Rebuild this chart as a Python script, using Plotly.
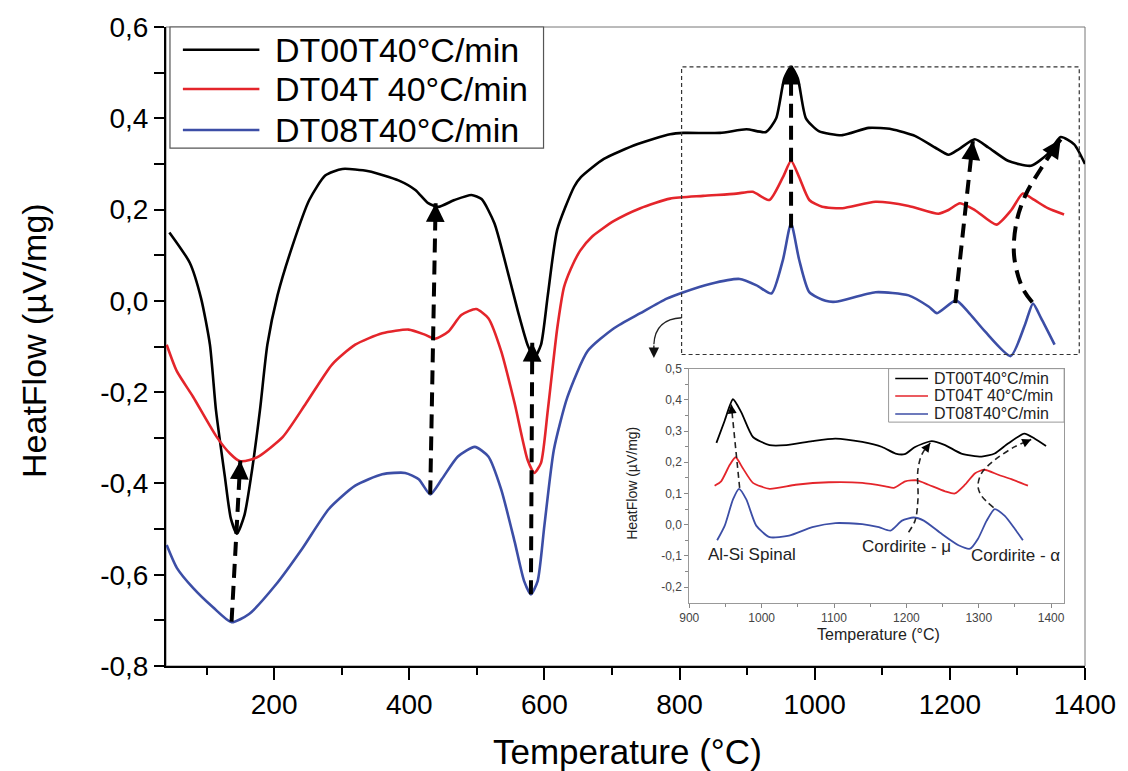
import math
import plotly.graph_objects as go

FONT = "Liberation Sans, Arial, sans-serif"

# ---------------- data ----------------
series_names = ["DT00T40°C/min", "DT04T 40°C/min", "DT08T40°C/min"]
series_colors = ["#000000", "#e4252b", "#3c4ea6"]

black_t = [45, 75, 92, 105, 114, 127, 136, 145, 156, 166, 179, 190, 205, 227, 252, 276, 301, 340, 384,
           409, 428, 443, 467, 492, 507, 526, 546, 561, 575, 585, 595, 605, 619, 644, 654, 688, 737, 786,
           806, 860, 899, 928, 943, 955, 965, 975, 987, 1006, 1041, 1080, 1114, 1149, 1178, 1198, 1213,
           1237, 1257, 1286, 1320, 1345, 1364, 1384, 1400]
black_v = [0.15, 0.084, 0.005, -0.096, -0.24, -0.384, -0.477, -0.51, -0.47, -0.384, -0.24, -0.096, 0.012,
           0.12, 0.221, 0.275, 0.289, 0.284, 0.264, 0.243, 0.214, 0.206, 0.221, 0.232, 0.223, 0.17, 0.062,
           -0.024, -0.096, -0.125, -0.096, 0.012, 0.156, 0.25, 0.271, 0.311, 0.343, 0.365, 0.368, 0.368,
           0.376, 0.37, 0.40, 0.487, 0.513, 0.487, 0.40, 0.372, 0.363, 0.379, 0.376, 0.361, 0.336, 0.32,
           0.332, 0.354, 0.336, 0.307, 0.296, 0.322, 0.359, 0.343, 0.300]

red_t = [41, 56, 80, 115, 135, 149, 165, 178, 213, 247, 286, 320, 360, 399, 423, 438, 458, 477, 499, 517,
         536, 556, 575, 585, 595, 605, 619, 629, 639, 653, 670, 703, 742, 786, 835, 884, 908, 933, 953,
         965, 977, 992, 1011, 1041, 1090, 1139, 1183, 1198, 1215, 1237, 1269, 1291, 1308, 1325, 1345, 1369]
red_v = [-0.096, -0.154, -0.21, -0.298, -0.335, -0.351, -0.348, -0.34, -0.298, -0.225, -0.139, -0.096,
         -0.071, -0.063, -0.074, -0.083, -0.067, -0.031, -0.018, -0.038, -0.11, -0.225, -0.348, -0.377,
         -0.355, -0.24, -0.06, 0.03, 0.07, 0.11, 0.14, 0.175, 0.203, 0.224, 0.23, 0.235, 0.239, 0.221,
         0.271, 0.307, 0.271, 0.221, 0.206, 0.203, 0.217, 0.208, 0.191, 0.199, 0.214, 0.199, 0.167,
         0.199, 0.235, 0.221, 0.203, 0.189]

blue_t = [41, 56, 80, 110, 137, 163, 203, 242, 281, 320, 360, 394, 414, 431, 448, 472, 497, 517, 536, 556,
          570, 580, 590, 600, 614, 634, 664, 703, 742, 781, 806, 845, 889, 914, 936, 953, 965, 977, 992,
          1016, 1031, 1090, 1139, 1169, 1181, 1209, 1227, 1252, 1290, 1311, 1323, 1335, 1355]
blue_v = [-0.535, -0.585, -0.629, -0.672, -0.704, -0.686, -0.621, -0.542, -0.456, -0.405, -0.38, -0.377,
          -0.391, -0.424, -0.391, -0.341, -0.32, -0.341, -0.413, -0.528, -0.614, -0.643, -0.614, -0.492,
          -0.326, -0.211, -0.11, -0.06, -0.027, 0.005, 0.019, 0.037, 0.048, 0.034, 0.016, 0.09, 0.17,
          0.09, 0.019, 0.0, -0.002, 0.019, 0.012, -0.013, -0.027, 0.001, -0.024, -0.067, -0.121, -0.053,
          -0.006, -0.038, -0.096]

inset_black_t = [937.5, 949, 960.4, 971.9, 988, 1011, 1034, 1070, 1102, 1139, 1166.5, 1185, 1197.6, 1212,
                 1235, 1253.5, 1276, 1304, 1322, 1340.5, 1363, 1377, 1393]
inset_black_v = [0.262, 0.334, 0.402, 0.36, 0.281, 0.255, 0.255, 0.268, 0.276, 0.265, 0.249, 0.228, 0.226,
                 0.249, 0.268, 0.255, 0.228, 0.218, 0.228, 0.26, 0.292, 0.276, 0.252]
inset_red_t = [935, 944, 956, 964, 974, 988, 1011, 1047, 1093, 1139, 1171, 1182.5, 1198.5, 1214.6, 1230.6,
               1253.5, 1267, 1281, 1295, 1308, 1327, 1345, 1368]
inset_red_v = [0.125, 0.139, 0.192, 0.216, 0.181, 0.134, 0.115, 0.128, 0.136, 0.134, 0.123, 0.118, 0.139,
               0.142, 0.128, 0.107, 0.1, 0.128, 0.165, 0.176, 0.16, 0.146, 0.125]
inset_blue_t = [938.5, 949, 960.4, 968.7, 978.8, 992.5, 1011, 1038, 1070, 1102, 1139, 1162, 1178, 1194,
                1210, 1224, 1249, 1272, 1288, 1299, 1311, 1322, 1336, 1350, 1361]
inset_blue_v = [-0.05, -0.003, 0.081, 0.115, 0.081, -0.003, -0.04, -0.035, -0.008, 0.005, 0.002, -0.008,
                -0.019, 0.013, 0.023, 0.013, -0.03, -0.066, -0.077, -0.045, 0.013, 0.05, 0.028, -0.014, -0.05]

main_x_ticks = [200, 400, 600, 800, 1000, 1200, 1400]
main_x_labels = ["200", "400", "600", "800", "1000", "1200", "1400"]
main_y_ticks = [-0.8, -0.6, -0.4, -0.2, 0.0, 0.2, 0.4, 0.6]
main_y_labels = ["-0,8", "-0,6", "-0,4", "-0,2", "0,0", "0,2", "0,4", "0,6"]
inset_x_ticks = [900, 1000, 1100, 1200, 1300, 1400]
inset_x_labels = ["900", "1000", "1100", "1200", "1300", "1400"]
inset_y_ticks = [-0.2, -0.1, 0.0, 0.1, 0.2, 0.3, 0.4, 0.5]
inset_y_labels = ["-0,2", "-0,1", "0,0", "0,1", "0,2", "0,3", "0,4", "0,5"]

# dashed guide arrows (temperature, heat flow); last point = arrow tip
main_arrows = [
    [(137, -0.703), (150, -0.35)],
    [(431, -0.424), (439, 0.214)],
    [(580, -0.643), (582, -0.092)],
    [(965, 0.16), (965, 0.515)],
    [(1208, -0.005), (1234, 0.35)],
    [(1322, -0.003), (1307, 0.03), (1295, 0.10), (1299, 0.175), (1313, 0.235), (1335, 0.29), (1364, 0.354)],
]
inset_arrows = [
    [(969.6, 0.118), (958, 0.385)],
    [(1203, -0.024), (1212, 0.013), (1216, 0.081), (1216, 0.176), (1222, 0.228), (1233, 0.262)],
    [(1320.5, 0.055), (1304, 0.092), (1299, 0.123), (1304, 0.165), (1322, 0.207), (1350, 0.25), (1372.5, 0.273)],
]
inset_labels = [("Al-Si Spinal", 986.7, -0.096), ("Cordirite - μ", 1200, -0.0715), ("Cordirite - α", 1350.3, -0.098)]
zoom_box = (803, 1391.5, -0.1175, 0.5125)

# ---------------- layout geometry ----------------
W, H = 1128, 771
ML, MR, MT, MB = 166, 37, 17, 105
PW, PH = W - ML - MR, H - MT - MB
X_RANGE = [40, 1400]
Y_RANGE = [-0.8, 0.6]
IX_RANGE = [900, 1418]
IY_RANGE = [-0.25, 0.5]


def pxx(x):
    return (x - ML) / PW


def pxy(y):
    return (H - MB - y) / PH


ins_x0, ins_x1, ins_y0, ins_y1 = 692.7, 1070, 364, 601.7
SX = PW / (X_RANGE[1] - X_RANGE[0])
SY = PH / (Y_RANGE[1] - Y_RANGE[0])
ISX = (ins_x1 - ins_x0) / (IX_RANGE[1] - IX_RANGE[0])
ISY = (ins_y1 - ins_y0) / (IY_RANGE[1] - IY_RANGE[0])

fig = go.Figure()

for t, v, c in [(black_t, black_v, series_colors[0]), (red_t, red_v, series_colors[1]),
                (blue_t, blue_v, series_colors[2])]:
    fig.add_trace(go.Scatter(x=t, y=v, mode="lines", line=dict(color=c, width=2.6, shape="spline", smoothing=0.6),
                             showlegend=False, hoverinfo="skip"))

for t, v, c in [(inset_black_t, inset_black_v, series_colors[0]), (inset_red_t, inset_red_v, series_colors[1]),
                (inset_blue_t, inset_blue_v, series_colors[2])]:
    fig.add_trace(go.Scatter(x=t, y=v, mode="lines", xaxis="x2", yaxis="y2",
                             line=dict(color=c, width=1.8, shape="spline", smoothing=0.6),
                             showlegend=False, hoverinfo="skip"))

annotations = []


def head(pts, xref, yref, sx, sy, L, w, size):
    (xp, yp), (x, y) = pts[-2], pts[-1]
    dx = (x - xp) * sx
    dy = -(y - yp) * sy
    n = math.hypot(dx, dy)
    ux, uy = dx / n, dy / n
    return dict(x=x, y=y, xref=xref, yref=yref, ax=-ux * L, ay=-uy * L, showarrow=True,
                arrowhead=2, arrowwidth=w, arrowsize=size, arrowcolor="black", text="")


for pts in main_arrows:
    fig.add_trace(go.Scatter(x=[p[0] for p in pts], y=[p[1] for p in pts], mode="lines",
                             line=dict(color="black", width=4, dash="14px,8px", shape="spline"),
                             showlegend=False, hoverinfo="skip"))
    annotations.append(head(pts, "x", "y", SX, SY, 16, 2.5, 1.5))

for pts in inset_arrows:
    fig.add_trace(go.Scatter(x=[p[0] for p in pts], y=[p[1] for p in pts], mode="lines", xaxis="x2", yaxis="y2",
                             line=dict(color="#222", width=1.6, dash="6px,4px", shape="spline"),
                             showlegend=False, hoverinfo="skip"))
    annotations.append(head(pts, "x2", "y2", ISX, ISY, 8, 1.5, 1.2))

for txt, x, y in inset_labels:
    annotations.append(dict(x=x, y=y, xref="x2", yref="y2", text=txt, showarrow=False,
                            xanchor="center", yanchor="middle",
                            font=dict(family=FONT, size=17, color="#222")))


def title(x, y, txt, size, angle=0, color="black"):
    return dict(x=pxx(x), y=pxy(y), xref="paper", yref="paper", text=txt, textangle=angle,
                showarrow=False, xanchor="center", yanchor="middle",
                font=dict(family=FONT, size=size, color=color))


annotations.append(title(631, 753, "Temperature (°C)", 35))
annotations.append(title(33, 335, "HeatFlow (µV/mg)", 34, -90))
annotations.append(title(882.7, 634, "Temperature (°C)", 16, 0, "#222"))
annotations.append(title(635, 480, "HeatFlow (µV/mg)", 14, -90, "#222"))

shapes = []
# plot frame (thin grey top/right)
shapes.append(dict(type="rect", xref="paper", yref="paper", x0=0, x1=1, y0=0, y1=1,
                   line=dict(color="#777", width=1), layer="below"))
# zoom box
shapes.append(dict(type="rect", xref="x", yref="y", x0=zoom_box[0], x1=zoom_box[1], y0=zoom_box[2],
                   y1=zoom_box[3], line=dict(color="#333", width=1.2, dash="4px,3px")))
# curved pointer from zoom box to inset
shapes.append(dict(type="path", xref="x", yref="y", path="M 803,-0.037 Q 764,-0.040 762,-0.095",
                   line=dict(color="#222", width=1.3)))
annotations.append(dict(x=762, y=-0.125, xref="x", yref="y", ax=0, ay=-14, showarrow=True,
                        arrowhead=2, arrowwidth=1.3, arrowsize=1.6, arrowcolor="#111", text=""))

# main legend (manual)
shapes.append(dict(type="rect", xref="paper", yref="paper", x0=pxx(170), x1=pxx(546), y0=pxy(140), y1=pxy(17),
                   line=dict(color="#555", width=1.2), fillcolor="white"))
for i, (nm, c) in enumerate(zip(series_names, series_colors)):
    yy = [40, 80, 121.7][i]
    shapes.append(dict(type="line", xref="paper", yref="paper", x0=pxx(183), x1=pxx(260), y0=pxy(yy), y1=pxy(yy),
                       line=dict(color=c, width=2.5)))
    annotations.append(dict(x=pxx(274), y=pxy(yy), xref="paper", yref="paper", text=nm, showarrow=False,
                            xanchor="left", yanchor="middle", font=dict(family=FONT, size=34, color="black")))

# inset legend (manual)
shapes.append(dict(type="rect", xref="paper", yref="paper", x0=pxx(893.3), x1=pxx(1070), y0=pxy(418.3),
                   y1=pxy(364), line=dict(color="#999", width=1)))
for i, (nm, c) in enumerate(zip(series_names, series_colors)):
    yy = [374, 391.7, 410][i]
    shapes.append(dict(type="line", xref="paper", yref="paper", x0=pxx(900), x1=pxx(933), y0=pxy(yy), y1=pxy(yy),
                       line=dict(color=c, width=1.5)))
    annotations.append(dict(x=pxx(937.3), y=pxy(yy), xref="paper", yref="paper", text=nm, showarrow=False,
                            xanchor="left", yanchor="middle", font=dict(family=FONT, size=16, color="#222")))

fig.update_layout(
    width=W, height=H, autosize=False,
    margin=dict(l=ML, r=MR, t=MT, b=MB, pad=0),
    paper_bgcolor="white", plot_bgcolor="white",
    font=dict(family=FONT, color="black"),
    showlegend=False,
    xaxis=dict(range=X_RANGE, tickmode="array", tickvals=main_x_ticks, ticktext=main_x_labels,
               ticks="outside", ticklen=12, tickwidth=2, tickcolor="black", showline=True, linewidth=2,
               linecolor="black", showgrid=False, zeroline=False, tickfont=dict(size=28, family=FONT),
               ticklabelstandoff=0,
               minor=dict(ticks="outside", ticklen=7, tickwidth=2, tickcolor="black", tickmode="array",
                          tickvals=[100, 300, 500, 700, 900, 1100, 1300])),
    yaxis=dict(range=Y_RANGE, tickmode="array", tickvals=main_y_ticks, ticktext=main_y_labels,
               ticks="outside", ticklen=10, tickwidth=2, tickcolor="black", showline=True, linewidth=2,
               linecolor="black", showgrid=False, zeroline=False, tickfont=dict(size=28, family=FONT),
               minor=dict(ticks="outside", ticklen=10, tickwidth=2, tickcolor="black", tickmode="array",
                          tickvals=[-0.7, -0.5, -0.3, -0.1, 0.1, 0.3, 0.5])),
    xaxis2=dict(domain=[pxx(ins_x0), pxx(ins_x1)], anchor="y2", range=IX_RANGE, tickmode="array",
                tickvals=inset_x_ticks, ticktext=inset_x_labels, ticks="outside", ticklen=4, tickwidth=1,
                tickcolor="#888", showline=True, linewidth=1, linecolor="#999", mirror=True, showgrid=False,
                zeroline=False, tickfont=dict(size=12, family=FONT, color="#444"),
                minor=dict(ticks="outside", ticklen=3, tickcolor="#888", tickmode="array",
                           tickvals=[950, 1050, 1150, 1250, 1350])),
    yaxis2=dict(domain=[pxy(ins_y1), pxy(ins_y0)], anchor="x2", range=IY_RANGE, tickmode="array",
                tickvals=inset_y_ticks, ticktext=inset_y_labels, ticks="outside", ticklen=4, tickwidth=1,
                tickcolor="#888", showline=True, linewidth=1, linecolor="#999", mirror=True, showgrid=False,
                zeroline=False, tickfont=dict(size=12, family=FONT, color="#444"),
                minor=dict(ticks="outside", ticklen=3, tickcolor="#888", tickmode="array",
                           tickvals=[-0.15, -0.05, 0.05, 0.15, 0.25, 0.35, 0.45])),
    shapes=shapes,
    annotations=annotations,
)

fig.write_html("out.html")
